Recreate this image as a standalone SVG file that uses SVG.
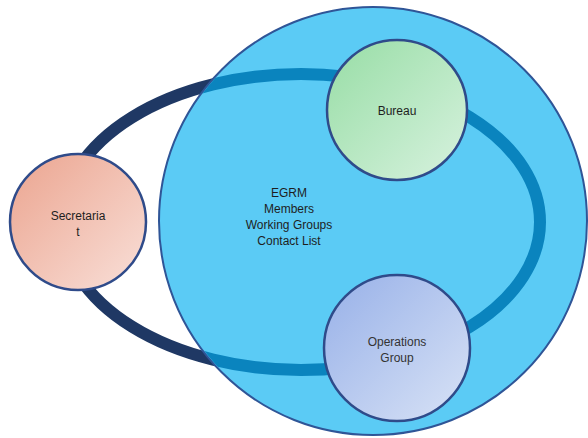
<svg xmlns="http://www.w3.org/2000/svg" width="588" height="438" viewBox="0 0 588 438">
<defs>
<style>
.node{stroke:#2F4B8A;stroke-width:2.5}
.lbl{font-family:"Liberation Sans",Arial,sans-serif;font-size:12px;fill:#1e1e1e;text-anchor:middle}
</style>
<linearGradient id="gSec" x1="0" y1="0" x2="1" y2="1"><stop offset="0" stop-color="#EBA48F"/><stop offset="1" stop-color="#F9E0D9"/></linearGradient>
<linearGradient id="gBur" x1="0" y1="0" x2="1" y2="1"><stop offset="0" stop-color="#97DDA5"/><stop offset="1" stop-color="#D8F2DF"/></linearGradient>
<linearGradient id="gOps" x1="0" y1="0" x2="1" y2="1"><stop offset="0" stop-color="#97B0E8"/><stop offset="1" stop-color="#D9E3F6"/></linearGradient>
<clipPath id="inBig"><circle cx="373" cy="221" r="213"/></clipPath>
</defs>
<g id="connectors">
<ellipse cx="301" cy="222" rx="239" ry="148" fill="none" stroke="#1F3864" stroke-width="12"/>
</g>
<g id="egrm">
<circle cx="373" cy="221" r="214" fill="#5BCBF5" stroke="#2F5597" stroke-width="2"/>
<ellipse cx="301" cy="222" rx="239" ry="148" fill="none" stroke="#0A84BE" stroke-width="12" clip-path="url(#inBig)"/>
<text class="lbl" x="289" y="197">EGRM</text>
<text class="lbl" x="289" y="213">Members</text>
<text class="lbl" x="289" y="229">Working Groups</text>
<text class="lbl" x="289" y="245">Contact List</text>
</g>
<g id="secretariat">
<circle class="node" cx="78" cy="222" r="68" fill="url(#gSec)"/>
<text class="lbl" x="78" y="220">Secretaria</text>
<text class="lbl" x="78" y="236">t</text>
</g>
<g id="bureau">
<circle class="node" cx="397" cy="110" r="70" fill="url(#gBur)"/>
<text class="lbl" x="397" y="115">Bureau</text>
</g>
<g id="operations">
<circle class="node" cx="397" cy="348" r="73" fill="url(#gOps)"/>
<text class="lbl" x="397" y="346" style="fill:#333">Operations</text>
<text class="lbl" x="397" y="362" style="fill:#333">Group</text>
</g>
</svg>
